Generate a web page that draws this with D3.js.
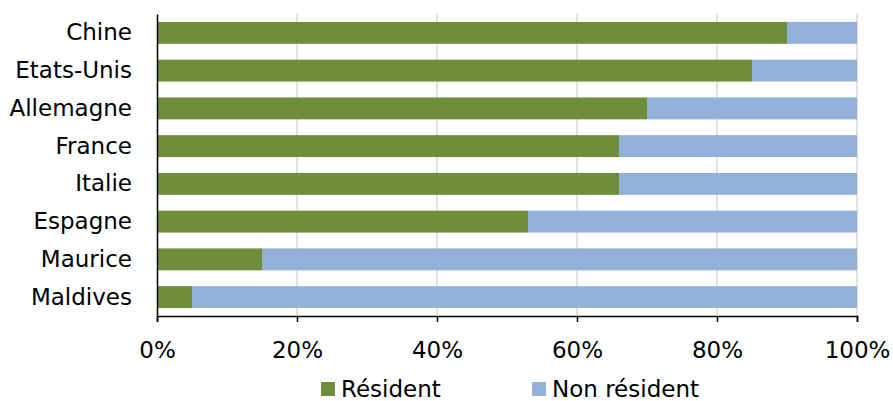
<!DOCTYPE html>
<html><head><meta charset="utf-8">
<script src="https://cdn.jsdelivr.net/npm/d3@7"></script>
<style>body{margin:0;background:#fff}svg text{font-family:"DejaVu Sans",sans-serif;fill:#000}</style>
</head><body><svg id="c" width="893" height="401"></svg>
<script>
const categories = ["Chine","Etats-Unis","Allemagne","France","Italie","Espagne","Maurice","Maldives"];
const resident = [90,85,70,66,66,53,15,5];
const nonResident = [10,15,30,34,34,47,85,95];
const seriesNames = ["Résident","Non résident"];
const colors = ["#6E8E3B","#92B0D9"];
const tickValues = [0,20,40,60,80,100];

const svg = d3.select("#c");
const m = {l:157,r:857,t:14,b:316};
const x = d3.scaleLinear().domain([0,100]).range([m.l,m.r]);
const y = d3.scaleBand().domain(categories).range([m.t,m.b]).paddingInner(0.42).paddingOuter(0.21);

// gridlines
svg.append("g").selectAll("line").data(tickValues.slice(1)).join("line")
  .attr("x1",d=>x(d)).attr("x2",d=>x(d)).attr("y1",m.t).attr("y2",m.b)
  .attr("stroke","#d9d9d9").attr("stroke-width",1.5);

const rows = categories.map((c,i)=>({c, vals:[resident[i],nonResident[i]]}));
const stack = d3.stack().keys([0,1]).value((d,k)=>d.vals[k]);
const series = stack(rows);
svg.append("g").selectAll("g").data(series).join("g").attr("fill",(d,i)=>colors[i])
  .selectAll("rect").data(d=>d).join("rect")
  .attr("x",d=>x(d[0])).attr("width",d=>x(d[1])-x(d[0]))
  .attr("y",d=>y(d.data.c)).attr("height",y.bandwidth());

// x axis
const xa = svg.append("g").attr("transform",`translate(0,${m.b})`)
  .call(d3.axisBottom(x).tickValues(tickValues).tickFormat(d=>d+"%").tickSize(6).tickPadding(20));
xa.select(".domain").attr("stroke","#000").attr("stroke-width",1.5);
xa.selectAll(".tick line").attr("stroke","#000").attr("stroke-width",1.5);
xa.selectAll("text").attr("font-size",23).attr("font-family","DejaVu Sans");

// y axis
const ya = svg.append("g").attr("transform",`translate(${m.l},0)`)
  .call(d3.axisLeft(y).tickSize(0).tickPadding(25));
ya.select(".domain").attr("stroke","#000").attr("stroke-width",1.5);
ya.selectAll("text").attr("font-size",23).attr("font-family","DejaVu Sans");

// legend
const leg = svg.append("g");
const lx = [321,532];
seriesNames.forEach((n,i)=>{
  leg.append("rect").attr("x",lx[i]).attr("y",382).attr("width",14).attr("height",14).attr("fill",colors[i]);
  leg.append("text").attr("x",lx[i]+20).attr("y",397).attr("font-size",23).text(n);
});
</script></body></html>
